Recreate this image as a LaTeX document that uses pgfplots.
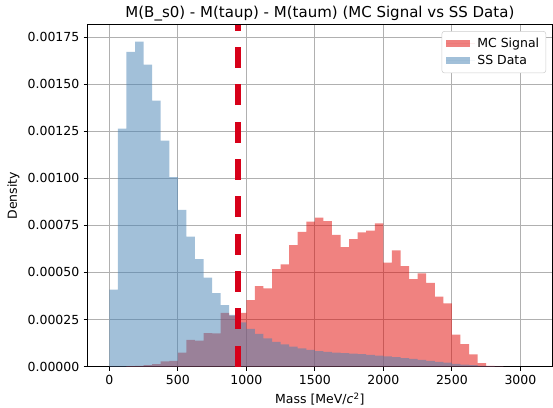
\documentclass[border=0pt]{standalone}
\usepackage{fontspec}
\setmainfont{DejaVu Sans}
\usepackage{pgfplots}
\usepackage{pgfplotstable}
\pgfplotsset{compat=1.18}

\definecolor{mcred}{RGB}{225,5,1}
\definecolor{ssblue}{RGB}{70,130,180}
\definecolor{cutred}{RGB}{215,0,25}
\definecolor{gridgray}{RGB}{176,176,176}

% bin left edges (width 62.5), densities
\pgfplotstableread{
x      mc        ss
0      0         0.000408
62.5   0         0.001264
125    0.000002  0.001672
187.5  0.000004  0.001727
250    0.000007  0.001605
312.5  0.000012  0.001413
375    0.000027  0.001200
437.5  0.000030  0.001007
500    0.000074  0.000833
562.5  0.000142  0.000690
625    0.000137  0.000571
687.5  0.000177  0.000472
750    0.000176  0.000390
812.5  0.000285  0.000326
875    0.000271  0.000275
937.5  0.000285  0.000234
1000   0.000353  0.000200
1062.5 0.000427  0.000174
1125   0.000415  0.000149
1187.5 0.000518  0.000131
1250   0.000543  0.000117
1312.5 0.000645  0.000106
1375   0.000716  0.000096
1437.5 0.000770  0.000089
1500   0.000791  0.000082
1562.5 0.000773  0.000078
1625   0.000700  0.000074
1687.5 0.000635  0.000071
1750   0.000677  0.000069
1812.5 0.000713  0.000066
1875   0.000722  0.000062
1937.5 0.000761  0.000058
2000   0.000552  0.000054
2062.5 0.000617  0.000050
2125   0.000533  0.000045
2187.5 0.000465  0.000040
2250   0.000495  0.000035
2312.5 0.000444  0.000030
2375   0.000372  0.000025
2437.5 0.000335  0.000020
2500   0.000169  0.000014
2562.5 0.000119  0.000010
2625   0.000064  0.000007
2687.5 0.000018  0.000004
2750   0.000004  0.000002
2812.5 0.000001  0.000001
2875   0         0
}\hist

\begin{document}
\begin{tikzpicture}[font=\fontsize{10.4}{12.5}\selectfont]
\begin{axis}[
  scale only axis, width=386.9pt, height=284.6pt,
  at={(0,0)}, anchor=south west,
  xmin=-157.7, xmax=3231, ymin=0, ymax=0.0018154,
  xtick={0,500,1000,1500,2000,2500,3000},
  ytick={0,0.00025,0.0005,0.00075,0.001,0.00125,0.0015,0.00175},
  scaled y ticks=false,
  /pgf/number format/assume math mode=true,
  /pgf/number format/1000 sep={},
  yticklabel style={/pgf/number format/.cd, fixed, fixed zerofill, precision=5},
  tick align=outside, major tick length=3.5pt,
  tick style={black, line width=0.8pt},
  xtick pos=bottom, ytick pos=left,
  axis line style={black, line width=0.8pt},
  grid=major, major grid style={gridgray, line width=0.8pt},
  title={M(B\_s0) - M(taup) - M(taum) (MC Signal vs SS Data)},
  title style={font=\fontsize{12.5}{15}\selectfont, yshift=-6pt},
  xlabel={Mass [MeV/\textit{c}\textsuperscript{2}]},
  ylabel={Density},
  legend cell align=left,
  legend image code/.code={\fill[#1, sharp corners] (0pt,-3pt) rectangle (20pt,3pt); \path (0pt,0pt) -- (24pt,0pt);},
  legend style={at={(0.987,0.982)}, anchor=north east, draw=black!20,
    rounded corners=2pt, fill=white, inner sep=3.5pt, row sep=1pt,
    font=\fontsize{10.4}{12.5}\selectfont},
]
\addplot[const plot mark left, draw=none, fill=mcred, fill opacity=0.5] table[x=x, y=mc] {\hist} \closedcycle;
\addlegendentry{MC Signal}
\addplot[const plot mark left, draw=none, fill=ssblue, fill opacity=0.5] table[x=x, y=ss] {\hist} \closedcycle;
\addlegendentry{SS Data}
\addplot[forget plot, cutred, line width=4.75pt, dash pattern=on 17.5pt off 13.6pt] coordinates {(940,0) (940,0.0018154)};
\end{axis}
\pgfresetboundingbox
\useasboundingbox (-73.1pt,-33.75pt) rectangle (387.7pt,305.4pt);
\end{tikzpicture}
\end{document}
